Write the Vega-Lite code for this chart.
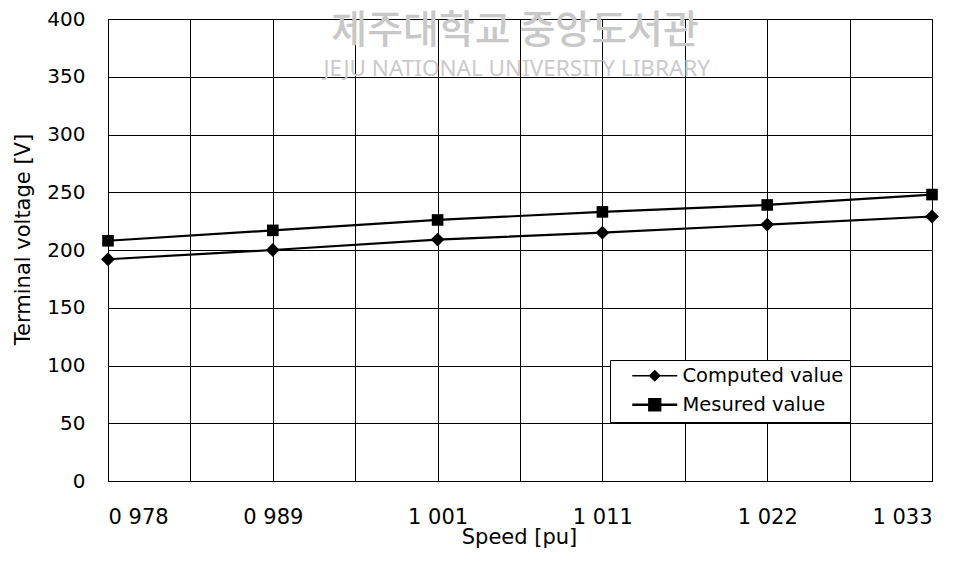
{
  "$schema": "https://vega.github.io/schema/vega-lite/v6.json",
  "width": 824,
  "height": 462,
  "autosize": "none",
  "padding": {"left": 108, "top": 19, "right": 41, "bottom": 80},
  "background": "white",
  "config": {
    "font": "DejaVu Sans",
    "view": {"stroke": "black", "strokeWidth": 1},
    "axis": {
      "domainColor": "black",
      "domainWidth": 1,
      "gridColor": "black",
      "gridOpacity": 1,
      "gridWidth": 1,
      "ticks": false,
      "labelColor": "black",
      "labelFont": "DejaVu Sans",
      "labelFontSize": 20,
      "titleColor": "black",
      "titleFont": "DejaVu Sans",
      "titleFontSize": 21,
      "titleFontWeight": "normal",
      "zindex": 1
    }
  },
  "data": {
    "values": [
      {"idx": 0, "speed": "0 978", "series": "Computed value", "voltage": 192},
      {"idx": 1, "speed": "0 989", "series": "Computed value", "voltage": 200},
      {"idx": 2, "speed": "1 001", "series": "Computed value", "voltage": 209},
      {"idx": 3, "speed": "1 011", "series": "Computed value", "voltage": 215},
      {"idx": 4, "speed": "1 022", "series": "Computed value", "voltage": 222},
      {"idx": 5, "speed": "1 033", "series": "Computed value", "voltage": 229},
      {"idx": 0, "speed": "0 978", "series": "Mesured value", "voltage": 208},
      {"idx": 1, "speed": "0 989", "series": "Mesured value", "voltage": 217},
      {"idx": 2, "speed": "1 001", "series": "Mesured value", "voltage": 226},
      {"idx": 3, "speed": "1 011", "series": "Mesured value", "voltage": 233},
      {"idx": 4, "speed": "1 022", "series": "Mesured value", "voltage": 239},
      {"idx": 5, "speed": "1 033", "series": "Mesured value", "voltage": 248}
    ]
  },
  "encoding": {
    "x": {
      "field": "idx",
      "type": "quantitative",
      "scale": {"domain": [0, 5], "nice": false, "zero": false},
      "axis": {
        "title": "Speed [pu]",
        "values": [0, 0.5, 1, 1.5, 2, 2.5, 3, 3.5, 4, 4.5, 5],
        "labelExpr": "datum.value % 1 === 0 ? ['0 978','0 989','1 001','1 011','1 022','1 033'][datum.value] : ''",
        "labelPadding": 25,
        "labelFontSize": 21,
        "titleX": 411,
        "titleY": 62,
        "titleBaseline": "alphabetic",
        "titleAlign": "center"
      }
    },
    "y": {
      "field": "voltage",
      "type": "quantitative",
      "scale": {"domain": [0, 400], "nice": false},
      "axis": {
        "title": "Terminal voltage [V]",
        "values": [0, 50, 100, 150, 200, 250, 300, 350, 400],
        "labelPadding": 23,
        "titleX": -85,
        "titleY": 220,
        "titleAngle": -90,
        "titleAlign": "center",
        "titleBaseline": "middle"
      }
    }
  },
  "layer": [
    {
      "data": {"values": [{"label": "제주대학교 중앙도서관", "px": 2.47, "py": 390}]},
      "mark": {"type": "text", "font": "Noto Sans CJK KR", "fontSize": 39, "fontWeight": 500, "color": "#c8c8c8", "baseline": "middle", "align": "center"},
      "encoding": {
        "x": {"field": "px", "type": "quantitative"},
        "y": {"field": "py", "type": "quantitative"},
        "text": {"field": "label"}
      }
    },
    {
      "data": {"values": [{"label": "JEJU NATIONAL UNIVERSITY LIBRARY", "px": 2.48, "py": 357}]},
      "mark": {"type": "text", "font": "Noto Sans", "fontSize": 22.5, "color": "#cacaca", "baseline": "middle", "align": "center"},
      "encoding": {
        "x": {"field": "px", "type": "quantitative"},
        "y": {"field": "py", "type": "quantitative"},
        "text": {"field": "label"}
      }
    },
    {
      "mark": {"type": "line", "strokeWidth": 2.2},
      "encoding": {
        "color": {
          "field": "series",
          "type": "nominal",
          "scale": {"domain": ["Computed value", "Mesured value"], "range": ["black", "black"]},
          "legend": {
            "title": null,
            "orient": "none",
            "legendX": 502,
            "legendY": 341,
            "direction": "vertical",
            "fillColor": "white",
            "strokeColor": "black",
            "padding": 6,
            "symbolSize": 400,
            "symbolOffset": 29,
            "labelOffset": 18,
            "labelFont": "DejaVu Sans",
            "labelFontSize": 19.5,
            "labelLimit": 400,
            "labelColor": "black",
            "rowPadding": 8,
            "encode": {
              "symbols": {
                "update": {
                  "shape": {"signal": "datum.value === 'Computed value' ? 'M-1,0H-0.22M0,-0.22L0.22,0L0,0.22L-0.22,0ZM0.22,0H1' : 'M-1,0H1M-0.24,-0.24H0.24V0.24H-0.24Z'"},
                  "size": {"value": 2025},
                  "fill": {"value": "black"},
                  "stroke": {"value": "black"},
                  "strokeWidth": {"signal": "datum.value === 'Computed value' ? 1.5 : 2.5"},
                  "opacity": {"value": 1}
                }
              }
            }
          }
        },
        "detail": {"field": "series"}
      }
    },
    {
      "transform": [{"filter": "datum.series === 'Computed value'"}],
      "mark": {"type": "point", "shape": "diamond", "filled": true, "color": "black", "opacity": 1, "size": 190}
    },
    {
      "transform": [{"filter": "datum.series === 'Mesured value'"}],
      "mark": {"type": "point", "shape": "square", "filled": true, "color": "black", "opacity": 1, "size": 135}
    }
  ]
}
